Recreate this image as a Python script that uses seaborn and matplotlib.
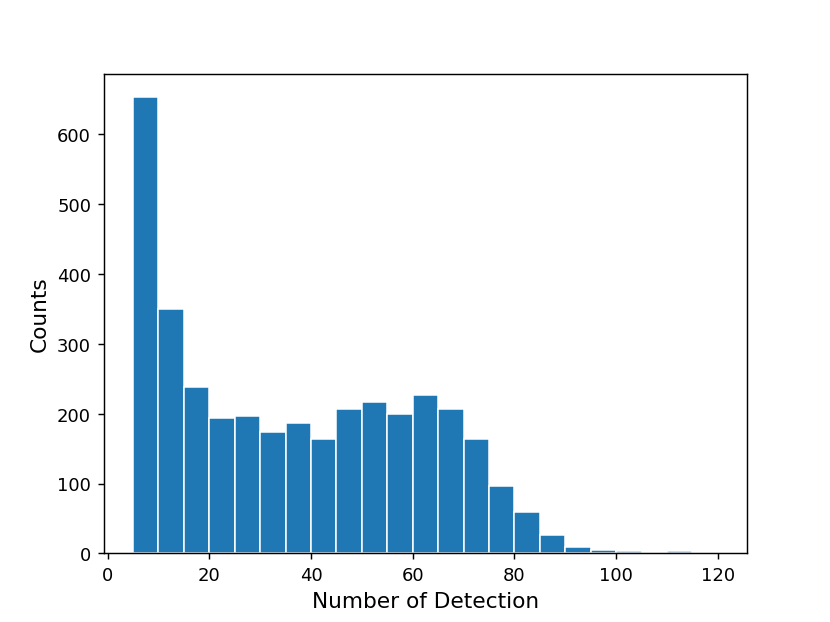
import numpy as np
import pandas as pd
import matplotlib
matplotlib.use("Agg")
import matplotlib.pyplot as plt
import seaborn as sns

# Bin edges (width 5) and counts
bin_edges = list(range(5, 125, 5))
counts = [653, 349, 238, 193, 197, 173, 187, 163, 206, 216, 199, 226,
          206, 164, 97, 59, 26, 9, 5, 3, 0, 3, 0]

df = pd.DataFrame({"detections": [e + 2.5 for e in bin_edges[:-1]],
                   "counts": counts})

fig, ax = plt.subplots(figsize=(6.385, 4.792), dpi=130)

sns.histplot(
    data=df,
    x="detections",
    weights="counts",
    bins=bin_edges,
    color="#1f77b4",
    alpha=1,
    edgecolor="white",
    linewidth=0.85,
    ax=ax,
)

ax.set_xlabel("Number of Detection", fontsize=12)
ax.set_ylabel("Counts", fontsize=12)

fig.savefig("out.png", dpi=130)
